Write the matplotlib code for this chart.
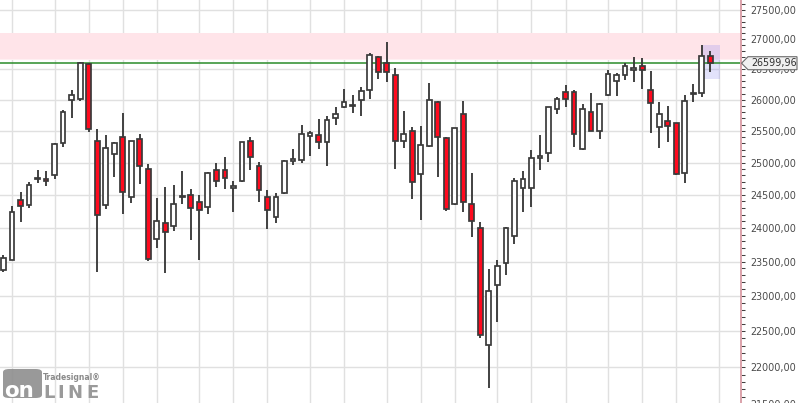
import numpy as np
import pandas as pd
import matplotlib
matplotlib.use("Agg")
import matplotlib.pyplot as plt
from matplotlib.patches import Rectangle, Polygon, FancyBboxPatch
from matplotlib.ticker import FixedLocator, FuncFormatter, NullFormatter

# ---------------- data (weekly candles) ----------------
start_week = "2017-11-20"
opens = [23380, 23531, 24417, 24341, 24740, 24740, 24801, 25300, 25991, 26019,
         26580, 25334, 24341, 25130, 25397, 24463, 25366, 24895, 23830, 24069,
         24034, 24470, 24494, 24396, 24310, 24879, 24879, 24601, 24718, 25334,
         24941, 24463, 24160, 24524, 25020, 25035, 25423, 25430, 25318, 25705,
         25878, 25900, 25991, 26154, 26700, 26597, 26400, 25334, 25492, 24817,
         25253, 25960, 25394, 24358, 25770, 24358, 23995, 22315, 23155, 23476,
         23875, 24601, 24601, 25067, 25146, 25846, 26121, 26121, 25208, 25803,
         25492, 26072, 26307, 26400, 26487, 26547, 26154, 25555, 25650, 25618,
         24832, 26088, 26105, 26719]
highs = [23592, 24330, 24545, 24694, 24884, 24869, 25313, 25830, 26159, 26616,
         26597, 25529, 25434, 25323, 25786, 25345, 25450, 24970, 24448, 24616,
         24652, 24864, 24585, 24494, 24857, 24995, 25092, 24713, 25330, 25407,
         25014, 24575, 24524, 25035, 25213, 25592, 25497, 25689, 25737, 25878,
         26170, 26072, 26203, 26766, 26715, 26954, 26520, 25823, 25555, 25576,
         26266, 25980, 25400, 25540, 25980, 24832, 24085, 23388, 23520, 24010,
         24755, 24864, 25192, 25428, 25883, 26050, 26236, 26159, 25926, 26105,
         25942, 26482, 26433, 26597, 26700, 26680, 26466, 25960, 25895, 25625,
         26072, 26252, 26900, 26800]
lows = [23349, 23525, 24094, 24305, 24688, 24636, 24739, 25237, 25700, 25975,
        25486, 23353, 24290, 24780, 24214, 24381, 24663, 23510, 23700, 23339,
        23955, 24366, 23820, 23525, 24206, 24626, 24590, 24245, 24703, 24884,
        24397, 23990, 24079, 24513, 24964, 24988, 25108, 25218, 24949, 25592,
        25865, 25790, 25742, 26012, 26345, 26296, 24895, 25233, 24442, 24124,
        25250, 24780, 24260, 24350, 24237, 23870, 22402, 21713, 22636, 23298,
        23765, 24245, 24320, 24879, 25004, 25765, 25878, 25249, 25200, 25490,
        25366, 26065, 26056, 26317, 26296, 26170, 25458, 25225, 25318, 24800,
        24678, 25960, 26040, 26455]
closes = [23559, 24236, 24326, 24647, 24754, 24718, 25287, 25803, 26072, 26611,
          25524, 24190, 25221, 25303, 24540, 25334, 24941, 23535, 24100, 23940,
          24361, 24480, 24305, 24270, 24832, 24709, 24755, 24636, 25318, 25083,
          24580, 24265, 24463, 25020, 25056, 25442, 25462, 25318, 25668, 25770,
          25960, 25920, 26148, 26733, 26450, 26450, 25334, 25442, 24694, 25270,
          25991, 25410, 24280, 25540, 24386, 24098, 22444, 23070, 23432, 23995,
          24709, 24739, 25067, 25098, 25878, 26019, 26019, 25442, 25846, 25492,
          25926, 26416, 26400, 26547, 26520, 26487, 25942, 25765, 25580, 24817,
          25975, 26105, 26719, 26599.96]

last_price = 26599.96
zone_low, zone_high = 26665, 27100          # pink resistance zone
last_box_low, last_box_high = 26340, 26905  # highlight of latest bar
price_ticks = list(range(21500, 28000, 500))
minor_ticks = list(range(21400, 27700, 100))

# ---------------- figure ----------------
W, H = 800, 403
fig = plt.figure(figsize=(W / 100, H / 100), dpi=100, facecolor="white")
ax = fig.add_axes([0, -7 / H, 741 / W, 410 / H])
ax.set_facecolor("white")
ax.set_yscale("log")
ax.set_ylim(21421, 27671)
n = len(closes)
x = np.arange(n)
ax.set_xlim(-0.41, 86.61)

# month boundary grid (week containing the 1st of a month)
weeks = pd.date_range(start_week, periods=n + 4, freq="W-MON")
month_idx = [i for i, w in enumerate(weeks)
             if any((w + pd.Timedelta(days=d)).day == 1 for d in range(7))]
ax.set_xticks(month_idx)
ax.set_xticklabels([])
ax.tick_params(axis="x", length=0)

ax.yaxis.set_major_locator(FixedLocator(price_ticks))
ax.yaxis.set_minor_locator(FixedLocator(minor_ticks))
ax.yaxis.set_major_formatter(FuncFormatter(lambda v, p: f"{v:.2f}".replace(".", ",")))
ax.yaxis.set_minor_formatter(NullFormatter())
ax.yaxis.tick_right()
ax.tick_params(axis="y", which="both", direction="out", length=2.6, width=0.75,
               color="#404040", pad=3.8, labelsize=6.9, labelcolor="#4a4a4a")

ax.grid(True, which="major", color="#e0e0e0", lw=1.0, zorder=0)
ax.set_axisbelow(True)
for s in ["top", "left", "bottom"]:
    ax.spines[s].set_visible(False)
ax.spines["right"].set_color("#dba2aa")
ax.spines["right"].set_linewidth(1.4)

# zone
ax.axhspan(zone_low, zone_high, color="#ffe4e9", lw=0, zorder=1)
ax.axhspan(zone_high, zone_high * 1.0004, color="#fff0f2", lw=0, zorder=1)
ax.axhspan(zone_low * 0.9996, zone_low, color="#fff0f2", lw=0, zorder=1)

# last bar highlight
ax.add_patch(Rectangle((82.1, last_box_low), 2.0, last_box_high - last_box_low,
                       facecolor=(0.55, 0.55, 0.95), alpha=0.25, lw=0, zorder=1.5))

# last price line
ax.axhline(last_price, color="#2a8c2a", lw=1.1, zorder=2)

# candles
edge = "#3a3a3a"
ax.vlines(x, lows, highs, color=edge, lw=1.35, zorder=3)
bw = 0.56
for i in range(n):
    o, c = opens[i], closes[i]
    lo, hi = min(o, c), max(o, c)
    if hi - lo < 8:
        hi = lo + 8
    fc = "#ff0a1e" if c < o else "white"
    ax.add_patch(Rectangle((i - bw / 2, lo), bw, hi - lo, facecolor=fc,
                           edgecolor=edge, lw=1.25, zorder=4))

# price box on axis
fig.canvas.draw()
yc = ax.transData.transform((0, last_price))[1]
pts = [(741.5, yc), (748, yc + 6.5), (797, yc + 6.5), (797, yc - 6.5), (748, yc - 6.5)]
fig.patches.append(Polygon([(px / W, py / H) for px, py in pts], closed=True,
                           transform=fig.transFigure, facecolor="#f0f0f0",
                           edgecolor="#6a6a6a", lw=0.8, zorder=10))
fig.text(751 / W, yc / H, f"{last_price:.2f}".replace(".", ","), fontsize=6.9,
         color="#303030", va="center", ha="left", zorder=11)

# logo watermark (pixel coordinates, top-left origin)
def fx(px):
    return px / W

def fy(py):
    return (H - py) / H

fig.patches.append(FancyBboxPatch((fx(3), fy(398)), 39 / W, 29 / H,
                                  boxstyle="round,pad=0,rounding_size=0.008",
                                  transform=fig.transFigure, facecolor="#8e8e8e",
                                  edgecolor="none", alpha=0.9, zorder=10))
fig.text(fx(4), fy(397), "on", fontsize=15.4, fontweight="bold", color="white",
         ha="left", va="baseline", zorder=11)
for ch, px in zip("LINE", [43.0, 57.5, 67.5, 86.0]):
    fig.text(fx(px), fy(397.5), ch, fontsize=13, fontweight="bold",
             color="#9a9a9a", ha="left", va="baseline", zorder=11)
fig.text(fx(43), fy(379.5), "Tradesignal\u00ae", fontsize=5.5, fontweight="bold",
         color="#8a8a8a", ha="left", va="baseline", zorder=11)

fig.savefig("out.png", dpi=100, facecolor="white")
